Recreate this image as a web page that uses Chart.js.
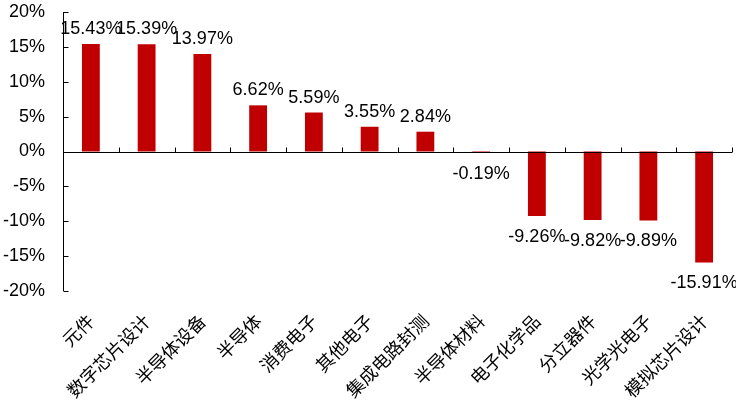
<!DOCTYPE html>
<html>
<head>
<meta charset="utf-8">
<script src="https://cdn.jsdelivr.net/npm/chart.js@4.4.0/dist/chart.umd.min.js"></script>
<style>
  html, body { margin: 0; padding: 0; background: #fff; }
  #wrap { width: 736px; height: 411px; }
</style>
</head>
<body>
<div id="wrap"><canvas id="chart"></canvas></div>
<script>
// Industry returns
const categories = [
  "元件", "数字芯片设计", "半导体设备", "半导体", "消费电子", "其他电子",
  "集成电路封测", "半导体材料", "电子化学品", "分立器件", "光学光电子", "模拟芯片设计"
];
const values = [15.43, 15.39, 13.97, 6.62, 5.59, 3.55, 2.84, -0.19, -9.26, -9.82, -9.89, -15.91];
const yTicks = [-20, -15, -10, -5, 0, 5, 10, 15, 20];

const barColor = "#C00000";
const numFont = "18px 'Liberation Sans', Arial, sans-serif";

// Axis lines and inner tick marks, zero-crossing x axis
const axisPlugin = {
  id: "excelAxes",
  afterDatasetsDraw(chart) {
    const ctx = chart.ctx;
    const y = chart.scales.y;
    const area = chart.chartArea;
    const y0 = Math.round(y.getPixelForValue(0)) + 0.5;
    const xl = Math.round(area.left) + 0.5;
    ctx.save();
    ctx.strokeStyle = "#000";
    ctx.lineWidth = 1;
    ctx.beginPath();
    // y axis
    ctx.moveTo(xl, area.top);
    ctx.lineTo(xl, area.bottom);
    yTicks.forEach((v) => {
      const py = Math.round(y.getPixelForValue(v)) + 0.5;
      ctx.moveTo(xl, py);
      ctx.lineTo(xl + 5, py);
    });
    // x axis at zero
    ctx.moveTo(area.left, y0);
    ctx.lineTo(area.right, y0);
    const step = (area.right - area.left) / categories.length;
    for (let i = 0; i <= categories.length; i++) {
      const px = Math.round(area.left + step * i) + 0.5;
      ctx.moveTo(px, y0);
      ctx.lineTo(px, y0 - 5);
    }
    ctx.stroke();
    ctx.restore();
  },
};

// Value labels at bar ends
const labelPlugin = {
  id: "valueLabels",
  afterDatasetsDraw(chart) {
    const ctx = chart.ctx;
    const meta = chart.getDatasetMeta(0);
    ctx.save();
    ctx.font = numFont;
    ctx.fillStyle = "#000";
    ctx.textAlign = "center";
    meta.data.forEach((bar, i) => {
      const v = values[i];
      const txt = v.toFixed(2) + "%";
      if (v >= 0) {
        ctx.textBaseline = "alphabetic";
        ctx.fillText(txt, bar.x, bar.y - 10);
      } else {
        ctx.textBaseline = "top";
        ctx.fillText(txt, bar.x, bar.y + 12);
      }
    });
    ctx.restore();
  },
};

new Chart(document.getElementById("chart"), {
  type: "bar",
  data: {
    labels: categories,
    datasets: [
      {
        data: values,
        backgroundColor: barColor,
        borderWidth: 0,
        categoryPercentage: 1,
        barPercentage: 0.32,
      },
    ],
  },
  options: {
    responsive: true,
    maintainAspectRatio: false,
    animation: false,
    layout: { padding: { top: 12, right: 4, left: 0, bottom: 0 } },
    plugins: {
      legend: { display: false },
      tooltip: { enabled: false },
    },
    scales: {
      x: {
        grid: { display: false, drawTicks: false },
        border: { display: false },
        ticks: {
          color: "#000",
          minRotation: 45,
          maxRotation: 45,
          padding: 19,
          autoSkip: false,
          font: { family: "'Noto Sans CJK SC', sans-serif", size: 18 },
        },
        afterFit(scale) {
          scale.height = 120;
          scale.paddingLeft = 0;
          scale.paddingRight = 0;
        },
      },
      y: {
        min: -20,
        max: 20,
        grid: { display: false, drawTicks: false },
        border: { display: false },
        ticks: {
          stepSize: 5,
          color: "#000",
          padding: 18,
          font: { family: "'Liberation Sans', Arial, sans-serif", size: 18 },
          callback: (v) => v + "%",
        },
        afterFit(scale) {
          scale.width = 63;
          scale.paddingTop = 0;
          scale.paddingBottom = 0;
        },
      },
    },
  },
  plugins: [axisPlugin, labelPlugin],
});
</script>
</body>
</html>
